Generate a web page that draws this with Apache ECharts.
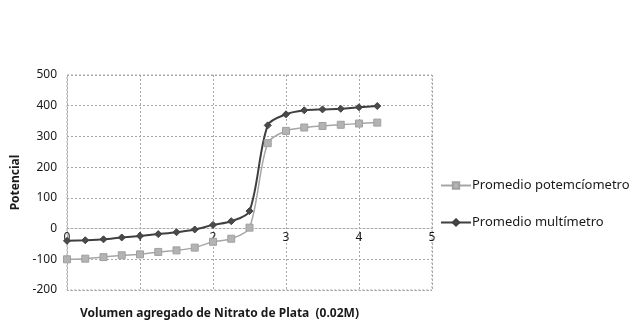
<!DOCTYPE html>
<html>
<head>
<meta charset="utf-8">
<script src="https://cdn.jsdelivr.net/npm/echarts@6/dist/echarts.min.js"></script>
<style>
  html, body { margin: 0; padding: 0; background: #fff; }
  #chart { width: 634px; height: 324px; }
</style>
</head>
<body>
<div id="chart"></div>
<script>
// volumen agregado (mL)
const volumen = [0, 0.25, 0.5, 0.75, 1, 1.25, 1.5, 1.75, 2, 2.25, 2.5, 2.75, 3, 3.25, 3.5, 3.75, 4, 4.25]
const potenciometro = [-100, -98, -93, -87, -84, -76, -71, -62, -43, -33, 3, 278, 318, 329, 334, 338, 342, 345]
const multimetro = [-40, -38, -35, -29, -24, -18, -12, -3, 12, 24, 57, 336, 372, 385, 388, 390, 395, 399]
const seriesNames = ['Promedio potemcíometro', 'Promedio multímetro']

const FONT = '"Noto Sans", sans-serif'
const gridLine = { color: '#a8a8a8', width: 1, type: [2, 2] }

function pairs(ys) {
  return volumen.map((x, i) => [x, ys[i]])
}

const myChart = echarts.init(document.getElementById('chart'))
const option = {
  animation: false,
  textStyle: { fontFamily: FONT },
  title: {
    text: 'Volumen agregado de Nitrato de Plata  (0.02M)',
    left: 75,
    top: 303,
    textStyle: { fontSize: 12, fontWeight: 'bold', color: '#1a1a1a', fontFamily: FONT }
  },
  legend: {
    orient: 'vertical',
    left: 440,
    top: 179,
    padding: 0,
    itemGap: 24,
    itemWidth: 30,
    itemHeight: 8,
    textStyle: { fontSize: 13, color: '#1a1a1a', fontFamily: FONT, padding: [0, 0, 0, -4] },
    data: seriesNames
  },
  grid: {
    left: 67,
    right: 202,
    top: 75,
    bottom: 34,
    show: true,
    borderColor: '#a8a8a8',
    borderWidth: 1,
    borderType: [2, 2]
  },
  xAxis: {
    type: 'value',
    min: 0,
    max: 5,
    interval: 1,
    // etiquetas pegadas a la línea del cero (offset hacia dentro del grid)
    offset: -61.4,
    axisLine: { show: true, onZero: false, lineStyle: gridLine },
    axisTick: { show: false },
    axisLabel: { fontSize: 12, color: '#1a1a1a', margin: 3 },
    splitLine: { show: true, lineStyle: gridLine }
  },
  yAxis: {
    type: 'value',
    min: -200,
    max: 500,
    interval: 100,
    name: 'Potencial',
    nameLocation: 'middle',
    nameGap: 44,
    nameTextStyle: { fontSize: 12, fontWeight: 'bold', color: '#1a1a1a' },
    axisLine: { show: false, onZero: false },
    axisTick: { show: false },
    axisLabel: { fontSize: 12, color: '#1a1a1a', margin: 10 },
    splitLine: { show: true, lineStyle: gridLine }
  },
  series: [
    {
      name: seriesNames[0],
      type: 'line',
      smooth: 0.3,
      symbol: 'rect',
      symbolSize: 7,
      data: pairs(potenciometro),
      lineStyle: { color: '#a6a6a6', width: 1.5 },
      itemStyle: { color: '#b3b3b3', borderColor: '#a0a0a0', borderWidth: 1 }
    },
    {
      name: seriesNames[1],
      type: 'line',
      smooth: 0.3,
      symbol: 'diamond',
      symbolSize: 7,
      data: pairs(multimetro),
      lineStyle: { color: '#3f3f3f', width: 2 },
      itemStyle: { color: '#4a4a4a', borderColor: '#3f3f3f', borderWidth: 1 }
    }
  ]
}
myChart.setOption(option)
</script>
</body>
</html>
